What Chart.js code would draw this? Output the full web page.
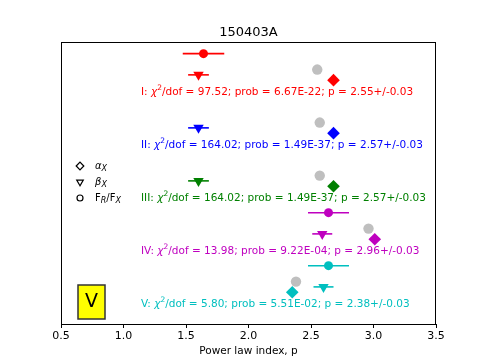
<!DOCTYPE html>
<html>
<head>
<meta charset="utf-8">
<script src="https://cdn.jsdelivr.net/npm/chart.js@4.4.0/dist/chart.umd.min.js"></script>
<style>
  body { margin: 0; background: #fff; }
  canvas { display: block; }
</style>
</head>
<body>
<canvas id="chart" width="485" height="364"></canvas>
<script>
// ---- data ----
const chartTitle = "150403A";
const rows = ["I", "II", "III", "IV", "V"];
const rowColors = ["#ff0000", "#0000ff", "#008000", "#bf00bf", "#00bfbf"];
const alphaP = [2.68, 2.68, 2.68, 3.01, 2.35];      // diamonds
const betaP = [1.60, 1.60, 1.60, 2.59, 2.60];       // down triangles
const betaErr = [0.083, 0.083, 0.083, 0.08, 0.08];
const ratioP = [1.64, null, null, 2.64, 2.64];      // filled circles
const ratioErr = [0.166, null, null, 0.164, 0.164];
const fitP = [2.55, 2.57, 2.57, 2.96, 2.38];        // grey circles
const fitErr = ["0.03", "0.03", "0.03", "0.03", "0.03"];
const chi2 = ["97.52", "164.02", "164.02", "13.98", "5.80"];
const prob = ["6.67E-22", "1.49E-37", "1.49E-37", "9.22E-04", "5.51E-02"];
const xMin = 0.5, xMax = 3.5, xStep = 0.5;

// vertical placement inside each row (row units)
const ROW = { ratio: 0.22, fit: 0.52, beta: 0.62, alpha: 0.72, text: 0.95 };
const TEXT_X = 1.14;
const FONT = "'DejaVu Sans', sans-serif";

function rowPoints(values, off) {
  const pts = [];
  values.forEach((v, i) => {
    if (v !== null) pts.push({ x: v, y: i + off, c: rowColors[i] });
  });
  return pts;
}
function rowErrs(values, errs) {
  return values.map((v, i) => errs[i]).filter((e, i) => values[i] !== null);
}

const ratioPts = rowPoints(ratioP, ROW.ratio);
const betaPts = rowPoints(betaP, ROW.beta);

const errorBars = {
  id: "errorBars",
  beforeDatasetsDraw(chart) {
    const ctx = chart.ctx;
    const xs = chart.scales.x, ys = chart.scales.y;
    chart.data.datasets.forEach((ds) => {
      if (!ds.errX) return;
      ds.data.forEach((p, j) => {
        const e = ds.errX[j];
        ctx.save();
        ctx.strokeStyle = p.c;
        ctx.lineWidth = 1.6;
        ctx.beginPath();
        const y = ys.getPixelForValue(p.y);
        ctx.moveTo(xs.getPixelForValue(p.x - e), y);
        ctx.lineTo(xs.getPixelForValue(p.x + e), y);
        ctx.stroke();
        ctx.restore();
      });
    });
  },
};

function drawSubText(ctx, x, y, parts) {
  // parts: [text, {italic, sub, sup}]
  parts.forEach(([t, o]) => {
    o = o || {};
    const size = o.sub || o.sup ? o.small : o.size;
    ctx.font = (o.italic ? "italic " : "") + size + "px " + FONT;
    const dy = o.sub ? 3 : o.sup ? -4 : 0;
    ctx.fillText(t, x, y + dy);
    x += ctx.measureText(t).width;
  });
  return x;
}

const annotations = {
  id: "annotations",
  afterDatasetsDraw(chart) {
    const ctx = chart.ctx;
    const a = chart.chartArea;
    const xs = chart.scales.x, ys = chart.scales.y;
    ctx.save();
    // frame
    ctx.strokeStyle = "#000";
    ctx.lineWidth = 1;
    ctx.strokeRect(a.left + 0.5, a.top + 0.5, a.right - a.left - 1, a.bottom - a.top);

    // title
    ctx.fillStyle = "#000";
    ctx.textAlign = "center";
    ctx.textBaseline = "middle";
    ctx.font = "13px " + FONT;
    ctx.fillText(chartTitle, (a.left + a.right) / 2, a.top - 9);

    // row labels
    ctx.textAlign = "left";
    const n = 10.5, s = 7.5;
    rows.forEach((r, i) => {
      ctx.fillStyle = rowColors[i];
      const x = xs.getPixelForValue(TEXT_X);
      const y = ys.getPixelForValue(i + ROW.text);
      drawSubText(ctx, x, y, [
        [r + ": ", { size: n }],
        ["\u03c7", { size: n, italic: true }],
        ["2", { sup: true, small: s }],
        ["/dof = " + chi2[i] + "; prob = " + prob[i] + "; p = " + fitP[i].toFixed(2) + "+/-" + fitErr[i], { size: n }],
      ]);
    });

    // legend
    ctx.fillStyle = "#000";
    ctx.strokeStyle = "#000";
    ctx.lineWidth = 1.2;
    const lx = a.left + 19, tx = a.left + 34;
    const ly = [a.top + 124, a.top + 140, a.top + 156];
    Chart.helpers.drawPoint(ctx, { pointStyle: "rectRot", radius: 3.8, rotation: 0 }, lx, ly[0]);
    ctx.fillStyle = "#fff";
    ctx.fill();
    ctx.stroke();
    Chart.helpers.drawPoint(ctx, { pointStyle: "triangle", radius: 3.8, rotation: 180 }, lx, ly[1]);
    ctx.fill();
    ctx.stroke();
    Chart.helpers.drawPoint(ctx, { pointStyle: "circle", radius: 3, rotation: 0 }, lx, ly[2]);
    ctx.fill();
    ctx.stroke();
    ctx.fillStyle = "#000";
    drawSubText(ctx, tx, ly[0], [["\u03b1", { size: 10, italic: true }], ["X", { sub: true, small: 8, italic: true }]]);
    drawSubText(ctx, tx, ly[1], [["\u03b2", { size: 10, italic: true }], ["X", { sub: true, small: 8, italic: true }]]);
    drawSubText(ctx, tx, ly[2], [["F", { size: 10 }], ["R", { sub: true, small: 8, italic: true }], ["/F", { size: 10 }], ["X", { sub: true, small: 8, italic: true }]]);

    // segment tag box
    const bx = a.left + 17, by = a.bottom - 39;
    ctx.fillStyle = "#ffff00";
    ctx.fillRect(bx, by, 27, 34);
    ctx.strokeStyle = "#333";
    ctx.lineWidth = 1.5;
    ctx.strokeRect(bx, by, 27, 34);
    ctx.fillStyle = "#000";
    ctx.textAlign = "center";
    ctx.font = "19px " + FONT;
    ctx.fillText("V", bx + 13.5, by + 17);
    ctx.restore();
  },
};

new Chart(document.getElementById("chart"), {
  type: "scatter",
  data: {
    datasets: [
      {
        data: ratioPts,
        errX: rowErrs(ratioP, ratioErr),
        pointStyle: "circle",
        pointRadius: 4.5,
        backgroundColor: ratioPts.map((p) => p.c),
        borderWidth: 0,
      },
      {
        data: betaPts,
        errX: rowErrs(betaP, betaErr),
        pointStyle: "triangle",
        rotation: 180,
        pointRadius: 6,
        backgroundColor: betaPts.map((p) => p.c),
        borderWidth: 0,
      },
      {
        data: rowPoints(fitP, ROW.fit),
        pointStyle: "circle",
        pointRadius: 5.2,
        backgroundColor: "#bfbfbf",
        borderWidth: 0,
      },
      {
        data: rowPoints(alphaP, ROW.alpha),
        pointStyle: "rectRot",
        pointRadius: 6.3,
        backgroundColor: rowColors,
        borderWidth: 0,
      },
    ],
  },
  options: {
    responsive: false,
    animation: false,
    events: [],
    layout: { padding: { left: 61, right: 49, top: 42, bottom: 0 } },
    plugins: { legend: { display: false }, tooltip: { enabled: false }, title: { display: false } },
    scales: {
      x: {
        type: "linear",
        min: xMin,
        max: xMax,
        afterFit: (axis) => { axis.height = 40; },
        ticks: { stepSize: xStep, color: "#000", padding: 2, font: { family: FONT, size: 11 }, callback: (v) => v.toFixed(1) },
        grid: { drawOnChartArea: false, drawTicks: true, tickLength: 4, color: "#000" },
        border: { display: true, color: "#000" },
        title: { display: true, text: "Power law index, p", color: "#000", font: { family: FONT, size: 10.5 }, padding: { top: 0, bottom: 6 } },
      },
      y: {
        type: "linear",
        display: false,
        min: 0,
        max: 5.32,
        reverse: true,
      },
    },
  },
  plugins: [errorBars, annotations],
});
</script>
</body>
</html>
